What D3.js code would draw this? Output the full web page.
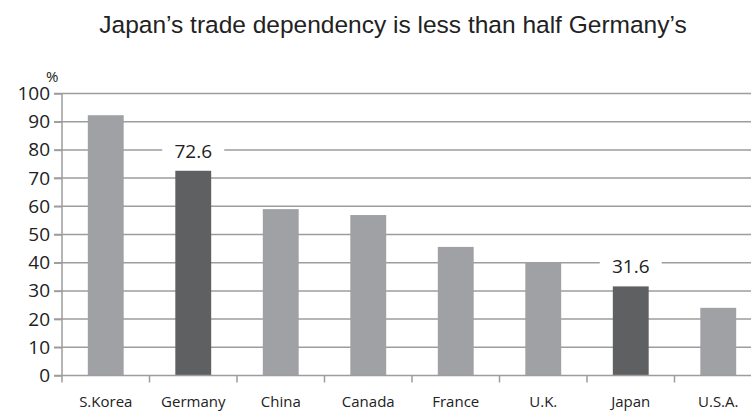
<!DOCTYPE html>
<html>
<head>
  <meta charset="utf-8">
  <title>Trade dependency</title>
  <style>
    body { margin: 0; background: #fff; }
    .grid line { stroke: #9d9d9d; stroke-width: 1.5px; }
  </style>
</head>
<body>
  <svg width="751" height="412"></svg>
  <script src="https://d3js.org/d3.v7.min.js"></script>
  <script>
    const categories = ["S.Korea", "Germany", "China", "Canada", "France", "U.K.", "Japan", "U.S.A."];
    const values = [92.3, 72.6, 59.0, 56.9, 45.6, 40.2, 31.6, 24.0];
    const highlighted = ["Germany", "Japan"];
    const yTicks = [0, 10, 20, 30, 40, 50, 60, 70, 80, 90, 100];

    const svg = d3.select("svg");
    const plotLeft = 62, plotRight = 762, plotTop = 93.5, plotBottom = 375.5;

    const x = d3.scaleBand().domain(categories).range([plotLeft, plotRight]).paddingInner(0.59).paddingOuter(0.295);
    const y = d3.scaleLinear().domain([0, 100]).range([plotBottom, plotTop]);

    // title
    svg.append("text")
      .attr("x", 393).attr("y", 33)
      .attr("text-anchor", "middle")
      .style("font-family", "'Liberation Sans', Arial, sans-serif")
      .style("font-size", "24.5px")
      .style("fill", "#222")
      .text("Japan\u2019s trade dependency is less than half Germany\u2019s");

    // gridlines
    svg.append("g").attr("class", "grid")
      .selectAll("line").data(yTicks.slice(1)).enter().append("line")
      .attr("x1", plotLeft - 8).attr("x2", plotRight)
      .attr("y1", d => y(d)).attr("y2", d => y(d));

    // bars
    svg.append("g").selectAll("rect")
      .data(categories).enter().append("rect")
      .attr("x", d => x(d))
      .attr("width", x.bandwidth())
      .attr("y", (d, i) => y(values[i]))
      .attr("height", (d, i) => y(0) - y(values[i]))
      .attr("fill", d => highlighted.includes(d) ? "#5f6062" : "#a0a1a4");

    // y axis
    const yAxis = svg.append("g")
      .attr("transform", `translate(${plotLeft},0)`)
      .call(d3.axisLeft(y).tickValues(yTicks).tickSize(8).tickPadding(4))
      .attr("font-family", "'Open Sans', sans-serif")
      .attr("font-size", 19);
    yAxis.select(".domain").attr("stroke", "#9d9d9d").attr("stroke-width", 1.5).attr("d", `M0,${plotBottom}V${plotTop}`);
    yAxis.selectAll(".tick line").attr("stroke", "#9d9d9d").attr("stroke-width", 1.5);
    yAxis.selectAll(".tick text").attr("fill", "#222");

    // x axis
    const xAxis = svg.append("g")
      .attr("transform", `translate(0,${plotBottom})`)
      .call(d3.axisBottom(x).tickSize(0).tickPadding(21))
      .attr("font-family", "'Open Sans', sans-serif")
      .attr("font-size", 15);
    xAxis.select(".domain").attr("stroke", "#9d9d9d").attr("stroke-width", 1.5).attr("d", `M${plotLeft - 8},0H${plotRight}`);
    xAxis.selectAll(".tick text").attr("fill", "#222");
    // boundary ticks between categories
    const step = x.step();
    xAxis.selectAll(".sep").data(d3.range(categories.length + 1)).enter().append("line")
      .attr("x1", i => plotLeft + i * step).attr("x2", i => plotLeft + i * step)
      .attr("y1", 0).attr("y2", 7)
      .attr("stroke", "#9d9d9d").attr("stroke-width", 1.5);

    // "%" unit label
    svg.append("text")
      .attr("x", 46).attr("y", 82)
      .style("font-family", "'Open Sans', sans-serif")
      .style("font-size", "15px").style("fill", "#222")
      .text("%");

    // value labels for highlighted bars
    highlighted.forEach(name => {
      const v = values[categories.indexOf(name)];
      const cx = x(name) + x.bandwidth() / 2;
      const cy = y(v) - 20;
      svg.append("rect")
        .attr("x", cx - 31).attr("y", cy - 10)
        .attr("width", 62).attr("height", 20)
        .attr("fill", "#fff");
      svg.append("text")
        .attr("x", cx).attr("y", cy + 7)
        .attr("text-anchor", "middle")
        .style("font-family", "'Open Sans', sans-serif")
        .style("font-size", "19px").style("fill", "#222")
        .text(v.toFixed(1));
    });
  </script>
</body>
</html>
